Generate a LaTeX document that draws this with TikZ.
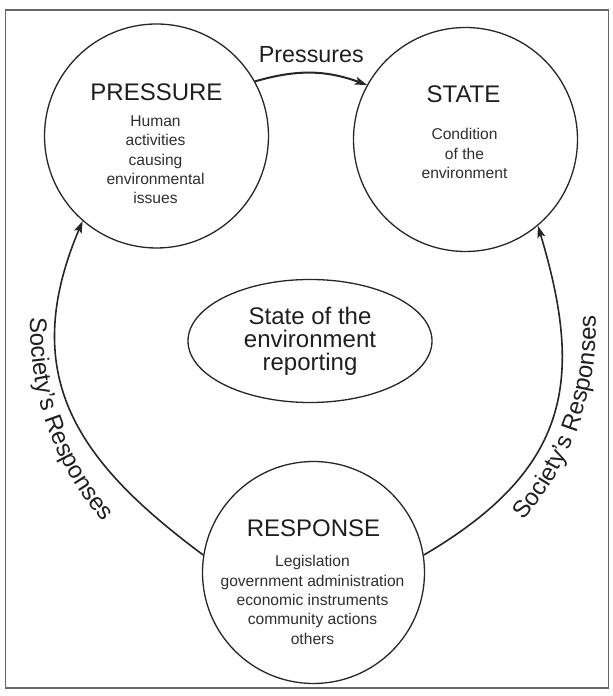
\documentclass[tikz,border=0pt]{standalone}
\usepackage{fontspec}
\setmainfont{Liberation Sans}
\usetikzlibrary{arrows.meta,shapes.geometric,decorations.text,calc}
\newcommand\arclabelfont{\fontsize{24}{24}\selectfont}
\begin{document}
\begin{tikzpicture}[x=1pt,y=1pt,
  bubble/.style={circle, draw=black!85, line width=1.3pt, minimum size=224pt, inner sep=0pt},
  titletext/.style={font=\fontsize{24}{28}\selectfont, text=black!88, inner sep=0pt},
  bodytext/.style={font=\fontsize{15.6}{19.3}\selectfont, text=black!82, align=center, inner sep=0pt},
  conn/.style={draw=black!85, line width=1.6pt, -{Stealth[length=12pt,width=8pt,inset=2.5pt]}},
  arclabel/.style={decorate, decoration={text along path, text={|\arclabelfont|Society’s Responses}, text align=center, text color=black!88}}
]
\useasboundingbox (0,0) rectangle (613,696);
\draw[black!60, line width=1.2pt] (5.5,8) rectangle (608.5,686);

\node[bubble] (p) at (156.5,560) {};
\node[bubble] (s) at (465.5,556.5) {};
\node[bubble, minimum size=222pt] (r) at (313.5,123.5) {};
\node[ellipse, draw=black!85, line width=1.3pt, minimum width=244pt, minimum height=123pt, inner sep=0pt, align=center, font=\fontsize{24}{23}\selectfont, text=black!88] (e) at (310,355) {State of the\\environment\\reporting};

\node[titletext] (pt) at ([yshift=44pt]p.center) {PRESSURE};
\node[bodytext] (pb) at ([yshift=-23.75pt, xshift=-1pt]p.center) {Human\\activities\\causing\\environmental\\issues};
\node[titletext] (st) at ([yshift=45.2pt, xshift=-2pt]s.center) {STATE};
\node[bodytext] (sb) at ([yshift=-14pt, xshift=-1pt]s.center) {Condition\\of the\\environment};
\node[titletext] (rt) at ([yshift=43.8pt]r.center) {RESPONSE};
\node[bodytext] (rb) at ([yshift=-27.5pt, xshift=-1pt]r.center) {Legislation\\government administration\\economic instruments\\community actions\\others};

\draw[conn, line width=2pt] (p.29) to[bend left=18] node[above=9pt, inner sep=0pt, font=\fontsize{23.3}{28}\selectfont, text=black!88] (pl) {Pressures} (s.151);

\draw[conn] (r.171.7) .. controls (80.5,232.4) and (15.9,317.4) .. (p.229);
\draw[conn] (r.9.5) .. controls (570.1,226.8) and (584.3,315.8) .. (s.310);

\coordinate (lc) at (326.7,369.2);
\coordinate (rc) at (299.3,369.2);
\path[arclabel] ($(lc)+(170:296.5)$) arc[start angle=170, end angle=229.3, radius=296.5];
\path[arclabel] ($(rc)+(-49:296.5)$) arc[start angle=-49, end angle=10.3, radius=296.5];
\end{tikzpicture}
\end{document}
